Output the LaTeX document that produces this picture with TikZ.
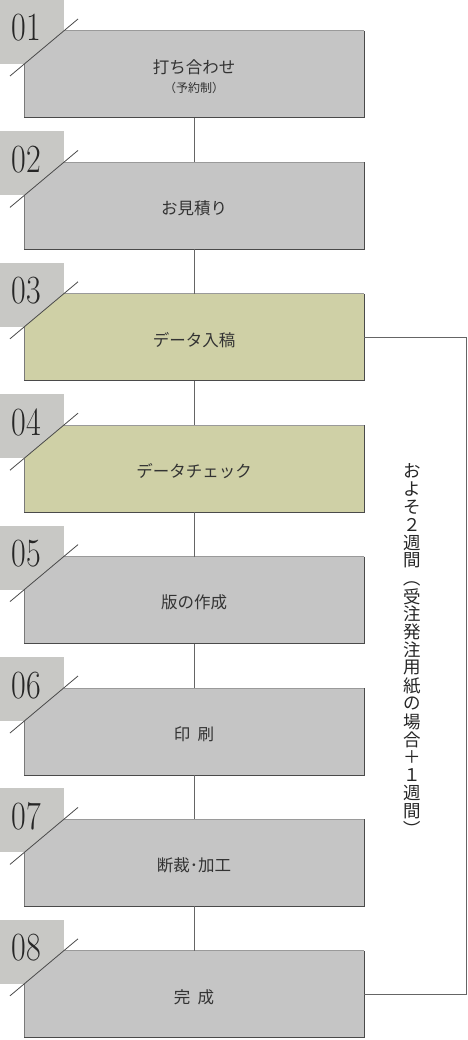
\documentclass[tikz,border=0pt]{standalone}
\usepackage{fontspec}
\newfontfamily\jp{Noto Sans CJK JP}
\definecolor{boxgray}{HTML}{C5C5C5}
\definecolor{boxolive}{HTML}{CFD0A6}
\definecolor{tabgray}{HTML}{C8C8C5}
\definecolor{edgedark}{HTML}{4A4A4A}
\definecolor{edgemid}{HTML}{7A7A7A}
\definecolor{edgelight}{HTML}{9A9A9A}
\definecolor{inkgray}{HTML}{333333}

\begin{document}
\begin{tikzpicture}[x=1pt,y=-1pt,
    stepbox/.style={rectangle, minimum width=340pt, minimum height=87pt,
                    inner sep=0pt, outer sep=0pt},
    steplabel/.style={font=\jp\fontsize{16.5}{19}\selectfont, text=inkgray, align=center},
    tab/.style={rectangle, fill=tabgray, minimum size=64pt, inner sep=0pt, outer sep=0pt},
    stepno/.style={font=\fontsize{40}{40}\selectfont, text=black!85, xscale=0.8,
                   anchor=base, inner sep=0pt},
    link/.style={draw=edgedark!85, line width=1pt},
    vchar/.style={font=\jp\fontsize{17.5}{17.5}\selectfont, text=black!85, inner sep=0pt}]
  \useasboundingbox (0,0) rectangle (467,1040);

  % steps
  \foreach \n/\lab/\col in {
      1/{打ち合わせ\\[0pt]{\fontsize{12}{14}\selectfont （予約制）}}/boxgray,
      2/{お見積り}/boxgray,
      3/{データ入稿}/boxolive,
      4/{データチェック}/boxolive,
      5/{版の作成}/boxgray,
      6/{印\hspace{0.45em}刷}/boxgray,
      7/{断裁･加工}/boxgray,
      8/{完\hspace{0.45em}成}/boxgray} {
    \pgfmathsetmacro\top{31+131.4*(\n-1)}
    \node[tab] (q\n) at (32,\top+1) {};
    \node[stepno] (n\n) at (26.5,\top+10) {0\n};
    \node[stepbox] (s\n) at (194,\top+43.5) {};
    \fill[\col] ([yshift=-33.3pt]s\n.north west) -- ([xshift=39.7pt]s\n.north west)
      -- (s\n.north east) -- (s\n.south east) -- (s\n.south west) -- cycle;
    \draw[edgelight, line width=1pt] ([xshift=39.7pt]s\n.north west) -- (s\n.north east);
    \draw[edgemid, line width=1pt] ([yshift=-33.3pt]s\n.north west) -- (s\n.south west);
    \draw[edgedark, line width=1pt] (s\n.north east) -- (s\n.south east) -- (s\n.south west);
    \draw[edgedark, line width=0.8pt] (10,\top+45) -- (78,\top-12);
    \node[steplabel] (t\n) at ([yshift=-2.5pt]s\n.center) {\lab};
  }

  % connectors
  \foreach \n [evaluate=\n as \m using int(\n+1)] in {1,...,7}
    \draw[link] (s\n.south) -- (s\m.north);
  \draw[link] (s3.east) -- ++(102,0) |- (s8.east);

  % vertical note
  \foreach \ch/\r [count=\k] in {お/0,よ/0,そ/0,２/0,週/0,間/0,（/-90,受/0,注/0,発/0,
      注/0,用/0,紙/0,の/0,場/0,合/0,＋/0,１/0,週/0,間/0,）/-90}
    \node[vchar, rotate=\r] (v\k) at (412,471+17.9*\k-17.9) {\ch};
\end{tikzpicture}
\end{document}
